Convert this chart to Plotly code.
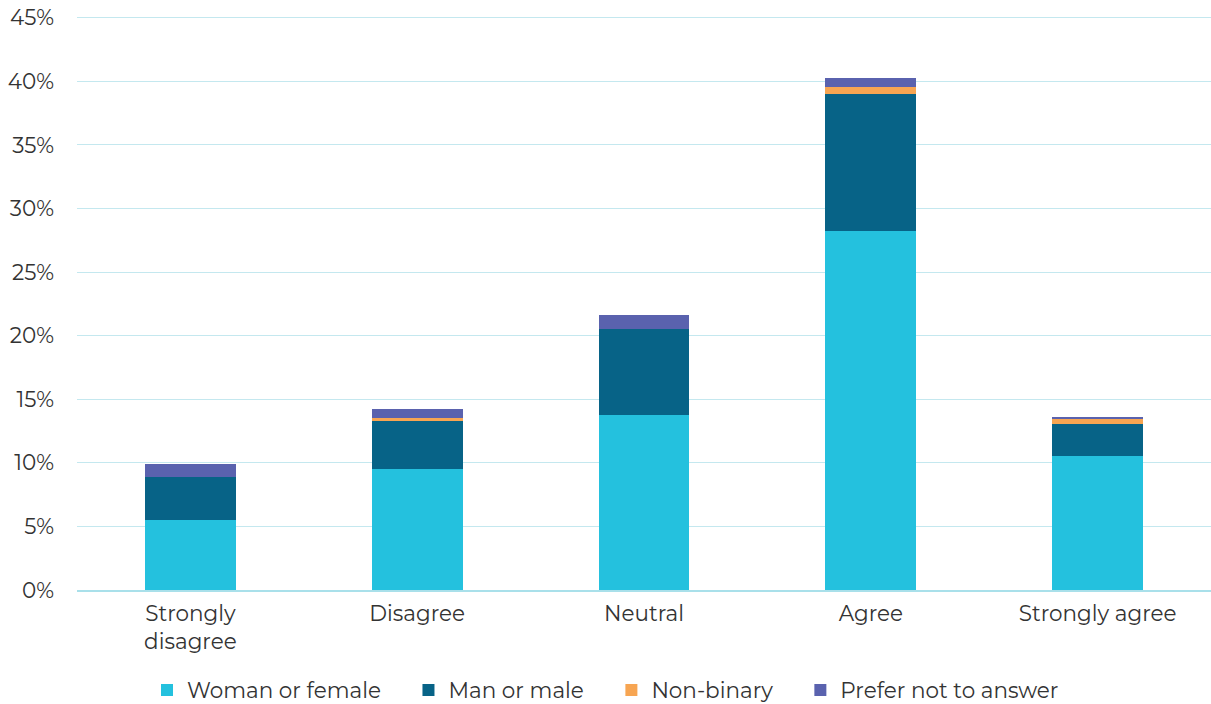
import plotly.graph_objects as go

categories = ["Strongly<br>disagree", "Disagree", "Neutral", "Agree", "Strongly agree"]
woman = [5.54, 9.55, 13.8, 28.2, 10.55]
man = [3.33, 3.76, 6.7, 10.78, 2.52]
nonbinary = [0.0, 0.23, 0.0, 0.55, 0.39]
prefer = [1.07, 0.71, 1.15, 0.73, 0.16]
y_ticks = [0, 5, 10, 15, 20, 25, 30, 35, 40, 45]
y_ticklabels = [f"{v}%" for v in y_ticks]

series = [
    ("Woman or female", woman, "#24C1DE"),
    ("Man or male", man, "#076387"),
    ("Non-binary", nonbinary, "#F7A552"),
    ("Prefer not to answer", prefer, "#5A62AE"),
]

pad = "\u00a0" * 4
fig = go.Figure()
for i, (name, vals, color) in enumerate(series):
    label = name + (pad if i < len(series) - 1 else "")
    fig.add_trace(go.Bar(
        x=categories, y=vals, name=label,
        marker=dict(color=color, line=dict(width=0)),
        hovertemplate="%{x}: %{y:.1f}%<extra>" + name + "</extra>",
    ))

font_family = "Montserrat, Lato, 'Open Sans', sans-serif"
fig.update_layout(
    barmode="stack",
    bargap=0.6,
    width=1211, height=704,
    margin=dict(l=76.5, r=0, t=14.2, b=114, autoexpand=False),
    plot_bgcolor="white", paper_bgcolor="white",
    font=dict(family=font_family, size=21.5, color="#333333"),
    showlegend=True,
    legend=dict(
        orientation="h", xref="container", yref="container",
        x=0.5, xanchor="center", y=0.02, yanchor="middle",
        font=dict(size=21.5, color="#333333"),
        itemwidth=30, traceorder="normal",
    ),
    xaxis=dict(
        automargin=False,
        showgrid=False, showline=True, linecolor="#A9E0EA", linewidth=1.5,
        tickfont=dict(size=21.5, color="#333333"),
        ticks="", ticklabelstandoff=3,
    ),
    yaxis=dict(
        automargin=False,
        range=[0, 45.3], tickmode="array", tickvals=y_ticks, ticktext=y_ticklabels,
        showgrid=True, gridcolor="#C4E8EF", gridwidth=1.2,
        zeroline=False, showline=False,
        tickfont=dict(size=21.5, color="#333333"),
        ticklabelstandoff=22,
    ),
)

fig.write_html(
    "out.html",
    config={"displayModeBar": False},
    post_script="document.body.style.margin='0px';",
)
